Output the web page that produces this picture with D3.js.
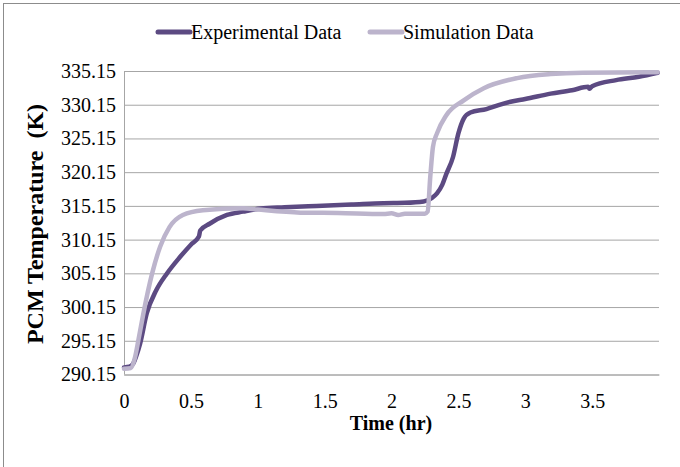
<!DOCTYPE html>
<html>
<head>
<meta charset="utf-8">
<script src="https://cdn.jsdelivr.net/npm/d3@7"></script>
<style>
  body { margin: 0; background: #fff; }
  svg text { font-family: "Liberation Serif", "Times New Roman", serif !important; }
</style>
</head>
<body>
<div class="chartContainer"></div>
<script>
// values
const yTicks = [290.15, 295.15, 300.15, 305.15, 310.15, 315.15, 320.15, 325.15, 330.15, 335.15];
const xTicks = [0, 0.5, 1, 1.5, 2, 2.5, 3, 3.5];

const expTime = [0, 0.04, 0.07, 0.09, 0.12, 0.17, 0.24, 0.32, 0.42, 0.5, 0.56, 0.57, 0.64, 0.77, 0.89, 1.02, 1.2, 1.44, 1.7, 1.94, 2.1, 2.24, 2.3, 2.34, 2.38, 2.41, 2.46, 2.5, 2.54, 2.59, 2.71, 2.8, 2.89, 3.0, 3.19, 3.35, 3.47, 3.48, 3.5, 3.68, 3.85, 3.99];
const expTemp = [291.2, 291.3, 291.8, 292.8, 294.7, 299.2, 302.6, 305.1, 307.6, 309.4, 310.6, 311.5, 312.5, 313.8, 314.3, 314.75, 314.95, 315.15, 315.35, 315.55, 315.6, 315.8, 316.3, 317.0, 318.3, 319.9, 322.4, 325.9, 328.1, 329.0, 329.5, 330.1, 330.6, 331.0, 331.8, 332.3, 332.8, 332.5, 332.9, 333.8, 334.3, 334.9];

const simTime = [0, 0.05, 0.08, 0.11, 0.145, 0.21, 0.27, 0.34, 0.44, 0.59, 0.89, 1.0, 1.32, 1.6, 1.94, 2.0, 2.05, 2.1, 2.25, 2.27, 2.29, 2.31, 2.34, 2.41, 2.54, 2.69, 2.94, 3.19, 3.43, 3.99];
const simTemp = [291.0, 291.1, 292.5, 295.5, 299.2, 305.1, 309.1, 312.0, 313.8, 314.5, 314.8, 314.6, 314.15, 314.1, 313.95, 314.05, 313.8, 314.0, 314.0, 314.3, 319.5, 323.9, 325.9, 328.6, 330.8, 332.6, 334.1, 334.7, 334.9, 334.95];

const series = [
  {name: "Experimental Data", color: "#5c4a82", t: expTime, v: expTemp},
  {name: "Simulation Data", color: "#bcb4cc", t: simTime, v: simTemp}
];

const width = 680, height = 467;
const margin = {top: 71, right: 21, bottom: 93, left: 124};

const svg = d3.select(".chartContainer").append("svg")
  .attr("width", width)
  .attr("height", height);

// outer frame
svg.append("rect")
  .attr("x", 3.5).attr("y", 3.5)
  .attr("width", width + 20).attr("height", height + 20)
  .attr("fill", "none").attr("stroke", "#8c8c8c");

const x = d3.scaleLinear()
  .domain([0, 4])
  .range([margin.left, width - margin.right]);

const y = d3.scaleLinear()
  .domain([290.15, 335.15])
  .range([height - margin.bottom + 0.5, margin.top]);

// y axis with grid
svg.append("g")
  .attr("transform", `translate(${margin.left},0)`)
  .attr("font-family", null)
  .call(d3.axisLeft(y).tickValues(yTicks).tickFormat(d3.format(".2f"))
    .tickSize(-(width - margin.left - margin.right)).tickPadding(8))
  .call(g => g.select(".domain").remove())
  .call(g => g.selectAll("line").attr("stroke", "#a6a6a6"))
  .call(g => g.selectAll("text").attr("font-size", 20).attr("fill", "#000"));

// x axis
svg.append("g")
  .attr("transform", `translate(0,${y(290.15)})`)
  .call(d3.axisBottom(x).tickValues(xTicks).tickFormat(d => d).tickSize(0).tickPadding(19))
  .call(g => g.select(".domain").attr("stroke", "#a6a6a6"))
  .call(g => g.selectAll("text").attr("font-size", 20).attr("fill", "#000"));

// left axis line
svg.append("line")
  .attr("x1", margin.left + 0.5).attr("x2", margin.left + 0.5)
  .attr("y1", y(335.15)).attr("y2", y(290.15))
  .attr("stroke", "#a6a6a6");

const line = d3.line()
  .x(d => x(d[0]))
  .y(d => y(d[1]))
  .curve(d3.curveMonotoneX);

series.forEach(s => {
  svg.append("path")
    .datum(s.t.map((t, i) => [t, s.v[i]]))
    .attr("fill", "none")
    .attr("stroke", s.color)
    .attr("stroke-width", 4.5)
    .attr("stroke-linejoin", "round")
    .attr("stroke-linecap", "round")
    .attr("d", line);
});

// legend
const legendX = [158, 370];
series.forEach((s, i) => {
  svg.append("line")
    .attr("x1", legendX[i]).attr("x2", legendX[i] + 32)
    .attr("y1", 32).attr("y2", 32)
    .attr("stroke", s.color).attr("stroke-width", 5)
    .attr("stroke-linecap", "round");
  svg.append("text")
    .attr("x", legendX[i] + 33).attr("y", 38.5)
    .attr("font-size", 20)
    .text(s.name);
});

// axis titles
svg.append("text")
  .attr("x", (x(0) + x(4)) / 2 - 0.5).attr("y", 430)
  .attr("text-anchor", "middle")
  .attr("font-size", 20).attr("font-weight", "bold")
  .text("Time (hr)");

svg.append("text")
  .attr("transform", "translate(43,224) rotate(-90)")
  .attr("text-anchor", "middle")
  .attr("font-size", 24).attr("font-weight", "bold")
  .style("white-space", "pre")
  .text("PCM Temperature  (K)");
</script>
</body>
</html>
